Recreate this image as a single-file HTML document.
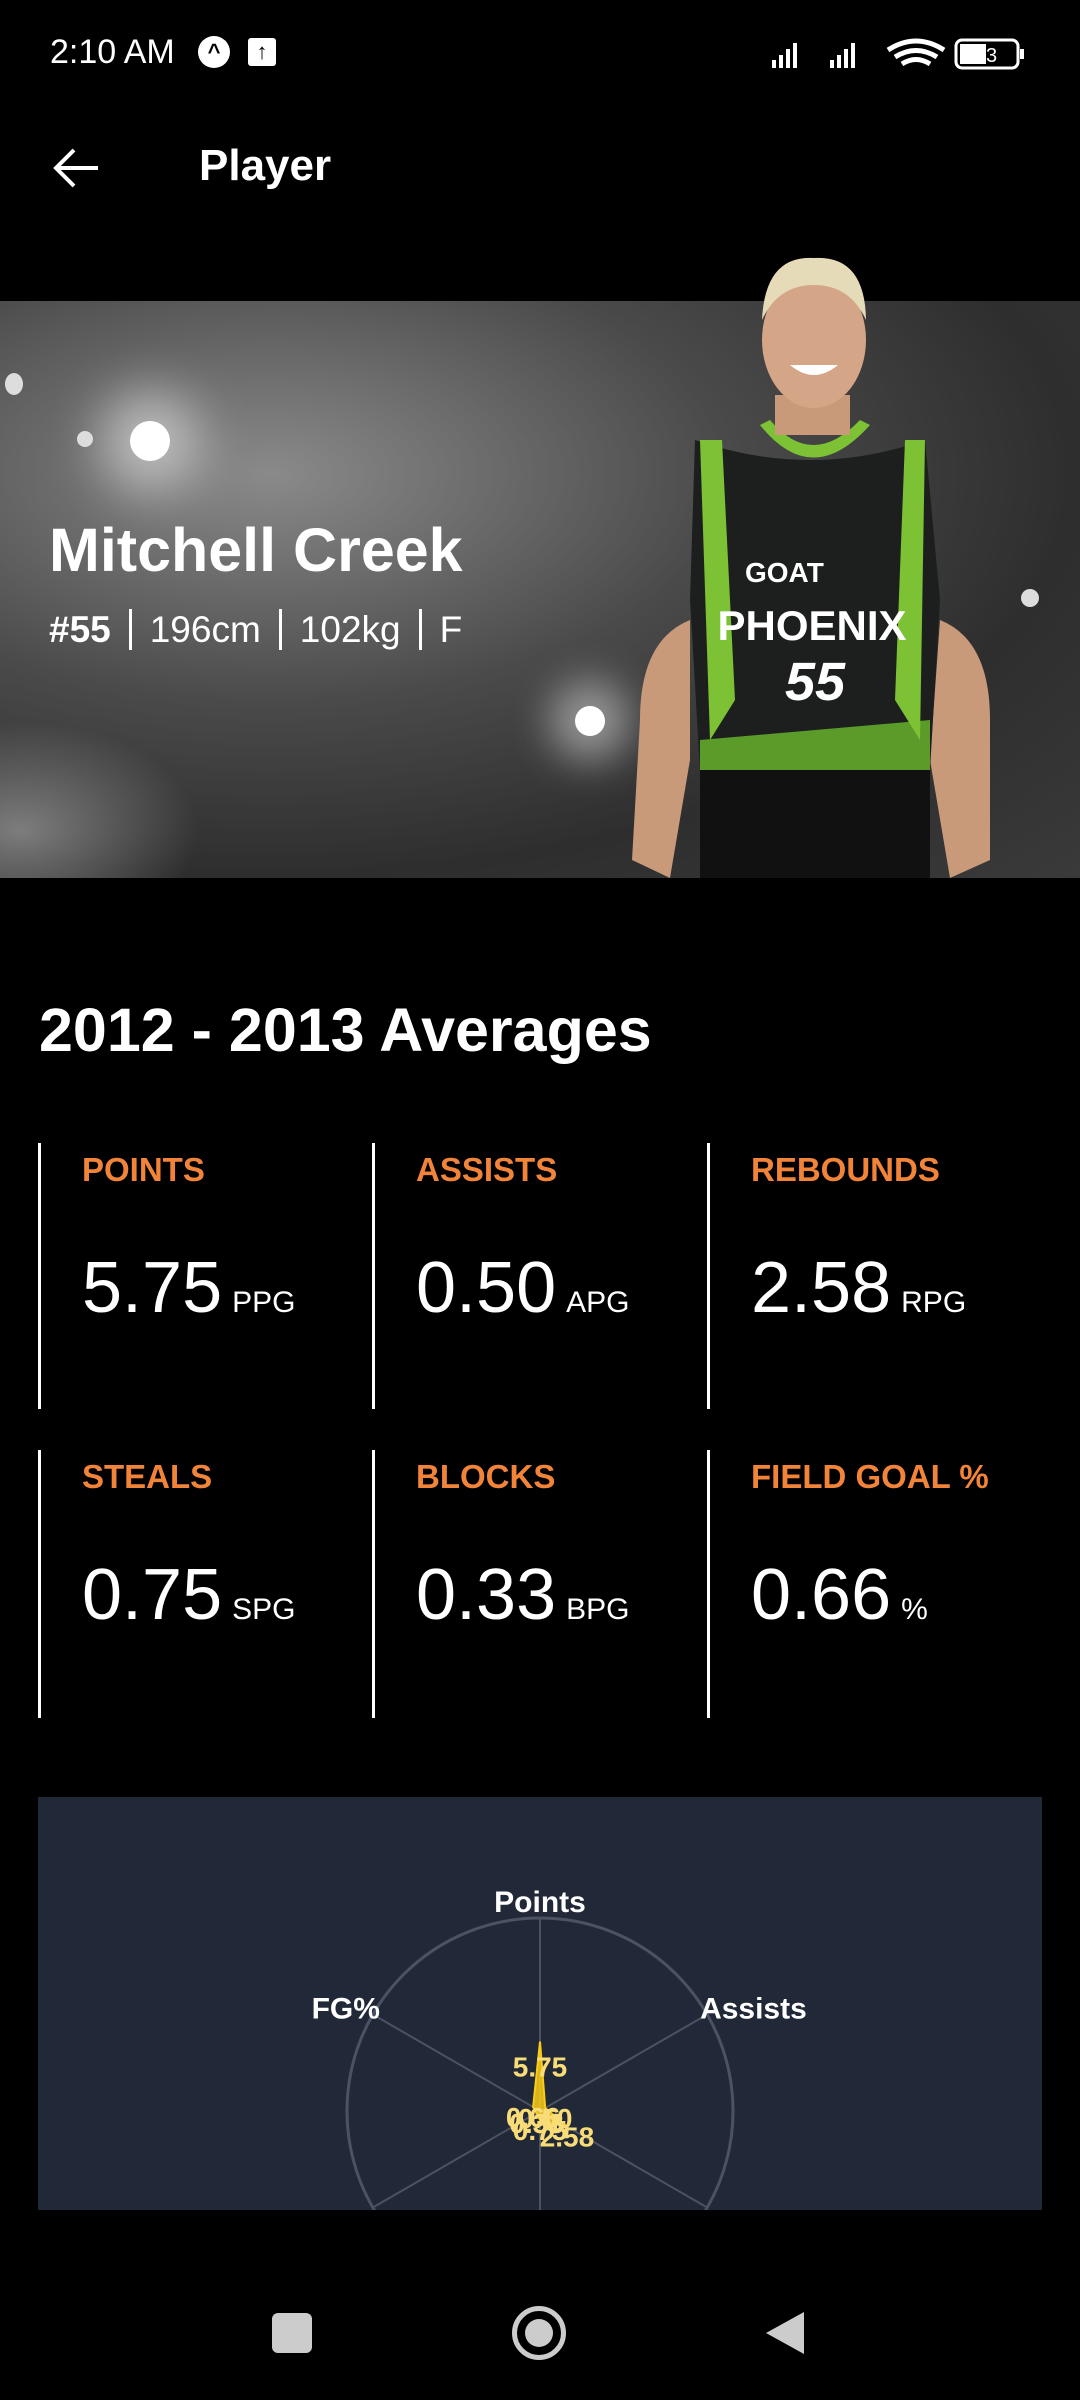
<!DOCTYPE html>
<html><head><meta charset="utf-8"><style>
*{margin:0;padding:0;box-sizing:border-box}
body{width:1080px;height:2400px;background:#000;overflow:hidden;position:relative;font-family:"Liberation Sans",sans-serif;color:#fff}
.abs{position:absolute}
.lbl{color:#F2843A;font-size:33px;font-weight:bold;position:absolute;left:41px;top:8px}
.val{position:absolute;left:41px;top:104px;font-size:72px;white-space:nowrap}
.val span{font-size:30px;margin-left:10px}
.cell{position:absolute;border-left:3px solid #fff;width:300px}
</style></head><body>
<div class="abs" style="left:0;top:0;width:1080px;height:110px">
 <div class="abs" style="left:50px;top:33px;font-size:34px">2:10 AM</div>
 <div class="abs" style="left:198px;top:36px;width:32px;height:32px;border-radius:50%;background:#fff;color:#000;font-size:22px;text-align:center;line-height:32px;font-weight:bold">^</div>
 <div class="abs" style="left:248px;top:38px;width:28px;height:28px;background:#fff;color:#000;font-size:22px;text-align:center;line-height:28px;border-radius:3px">↑</div>
 <svg class="abs" style="left:770px;top:36px" width="260" height="36">
  <g fill="#fff"><rect x="2" y="24" width="4" height="8"/><rect x="9" y="19" width="4" height="13"/><rect x="16" y="13" width="4" height="19"/><rect x="23" y="7" width="4" height="25"/>
  <rect x="60" y="24" width="4" height="8"/><rect x="67" y="19" width="4" height="13"/><rect x="74" y="13" width="4" height="19"/><rect x="81" y="7" width="4" height="25"/></g>
  <path d="M118 14 Q146 -4 174 14 M125 21 Q146 8 167 21 M132 28 Q146 19 160 28" stroke="#fff" stroke-width="5" fill="none"/>
  <rect x="186" y="4" width="62" height="28" rx="6" stroke="#fff" stroke-width="3" fill="none"/><rect x="190" y="8" width="26" height="20" fill="#fff"/>
  <text x="216" y="26" font-size="20" fill="#fff" text-anchor="middle" font-family="Liberation Sans">43</text>
  <rect x="250" y="13" width="4" height="10" fill="#fff"/>
 </svg>
</div>
<div class="abs" style="left:52px;top:146px;width:50px;height:44px">
 <svg width="50" height="44"><path d="M4 22 H46 M22 4 L4 22 L22 40" stroke="#fff" stroke-width="4" fill="none"/></svg>
</div>
<div class="abs" style="left:199px;top:141px;font-size:44px;font-weight:bold">Player</div>

<div class="abs" style="left:0;top:301px;width:1080px;height:577px;overflow:hidden;background:radial-gradient(ellipse at 25% 30%,#8a8a8a 0%,#4a4a4a 40%,#2e2e2e 70%,#3a3a3a 100%)">
 <div class="abs" style="left:130px;top:120px;width:40px;height:40px;border-radius:50%;background:#fff;box-shadow:0 0 50px 30px rgba(255,255,255,.5)"></div>
 <div class="abs" style="left:575px;top:405px;width:30px;height:30px;border-radius:50%;background:#fff;box-shadow:0 0 40px 25px rgba(255,255,255,.45)"></div>
 <div class="abs" style="left:0;top:420px;width:200px;height:157px;background:radial-gradient(ellipse at 10% 70%,rgba(200,200,200,.5),transparent 70%)"></div>
 <div class="abs" style="left:5px;top:72px;width:18px;height:22px;border-radius:50%;background:#ddd"></div>
 <div class="abs" style="left:77px;top:130px;width:16px;height:16px;border-radius:50%;background:#ddd"></div>
 <div class="abs" style="left:1021px;top:288px;width:18px;height:18px;border-radius:50%;background:#ddd"></div>
 <div class="abs" style="left:49px;top:214px;font-size:61px;font-weight:bold">Mitchell Creek</div>
 <div class="abs" style="left:49px;top:308px;font-size:37px;white-space:nowrap">
  <b>#55</b><span style="border-left:3px solid #fff;margin:0 18px;"></span>196cm<span style="border-left:3px solid #fff;margin:0 18px;"></span>102kg<span style="border-left:3px solid #fff;margin:0 18px;"></span>F
 </div>
</div>

<svg class="abs" style="left:0;top:0" width="1080" height="878">
  <path d="M690 620 Q640 640 640 720 L632 860 L670 878 L690 760 Z" fill="#c89a7a"/>
  <path d="M940 620 Q990 640 990 720 L990 860 L950 878 L930 760 Z" fill="#c89a7a"/>
  <path d="M700 878 L700 760 L930 760 L930 878 Z" fill="#111"/>
  <path d="M695 440 Q810 480 925 440 L940 600 L930 770 L700 770 L690 600 Z" fill="#1d1f1f"/>
  <path d="M700 740 L930 720 L930 770 L700 770 Z" fill="#5a9b2a"/>
  <path d="M700 440 L722 440 L735 700 L710 740 Z M905 440 L925 440 L920 740 L895 700 Z" fill="#7cc234"/>
  <path d="M760 425 Q812 490 870 425 L860 420 Q812 470 770 420 Z" fill="#7cc234"/>
  <rect x="775" y="395" width="75" height="40" fill="#c89a7a"/>
  <ellipse cx="814" cy="340" rx="52" ry="68" fill="#d4a586"/>
  <path d="M762 320 Q765 255 814 258 Q865 255 866 320 Q850 285 814 285 Q778 285 762 320Z" fill="#e6dbb8"/>
  <path d="M790 365 Q814 385 838 365 Z" fill="#fff"/>
  <text x="745" y="582" font-size="28" font-weight="bold" fill="#fff" font-family="Liberation Sans">GOAT</text>
  <text x="812" y="640" font-size="42" font-weight="bold" fill="#fff" text-anchor="middle" font-family="Liberation Sans">PHOENIX</text>
  <text x="815" y="700" font-size="54" font-weight="bold" font-style="italic" fill="#fff" text-anchor="middle" font-family="Liberation Sans">55</text>
</svg>

<div class="abs" style="left:39px;top:995px;font-size:61px;font-weight:bold">2012 - 2013 Averages</div>

<div class="cell" style="left:38px;top:1143px;height:266px"><div class="lbl">POINTS</div><div class="val">5.75<span>PPG</span></div></div>
<div class="cell" style="left:372px;top:1143px;height:266px"><div class="lbl">ASSISTS</div><div class="val">0.50<span>APG</span></div></div>
<div class="cell" style="left:707px;top:1143px;height:266px"><div class="lbl">REBOUNDS</div><div class="val">2.58<span>RPG</span></div></div>
<div class="cell" style="left:38px;top:1450px;height:268px"><div class="lbl">STEALS</div><div class="val">0.75<span>SPG</span></div></div>
<div class="cell" style="left:372px;top:1450px;height:268px"><div class="lbl">BLOCKS</div><div class="val">0.33<span>BPG</span></div></div>
<div class="cell" style="left:707px;top:1450px;height:268px"><div class="lbl">FIELD GOAL %</div><div class="val">0.66<span>%</span></div></div>

<svg class="abs" id="radar" style="left:38px;top:1797px;background:#212838" width="1004" height="413"></svg>

<div class="abs" style="left:0;top:2270px;width:1080px;height:130px">
 <div class="abs" style="left:272px;top:43px;width:40px;height:40px;background:#ccc;border-radius:6px"></div>
 <div class="abs" style="left:512px;top:36px;width:54px;height:54px;border:5px solid #ccc;border-radius:50%"><div style="margin:8px;width:28px;height:28px;border-radius:50%;background:#ccc"></div></div>
 <svg class="abs" style="left:764px;top:40px" width="42" height="46"><path d="M40 2 L40 44 L2 23 Z" fill="#ccc"/></svg>
</div>

<script>
const axes = ["Points","Assists","Rebounds","Steals","Blocks","FG%"];
const values = [5.75, 0.50, 2.58, 0.75, 0.33, 0.66];
const valueLabels = ["5.75","0.50","2.58","0.75","0.33","0.66"];
const maxValue = 16;

const svg = document.getElementById('radar');
const NS = 'http://www.w3.org/2000/svg';
const cx = 502, cy = 314, R = 193;
function ang(i){ return -Math.PI/2 + i*2*Math.PI/axes.length; }
function px(i, v){ return cx + Math.cos(ang(i))*R*v/maxValue; }
function py(i, v){ return cy + Math.sin(ang(i))*R*v/maxValue; }
function mk(tag, attrs){ const e=document.createElementNS(NS,tag); for(const k in attrs) e.setAttribute(k,attrs[k]); svg.appendChild(e); return e; }

const ring = mk('circle',{cx:cx,cy:cy,r:R,fill:'none',stroke:'#4b5262','stroke-width':3});


axes.forEach((a,i)=>{
  const l = mk('line',{x1:cx,y1:cy,x2:px(i,maxValue),y2:py(i,maxValue),stroke:'#4b5262','stroke-width':2});
  
  
  const c = Math.cos(ang(i)), s = Math.sin(ang(i));
  const vertical = Math.abs(c) < 0.1;
  const lx = cx + c*(R+8), ly = cy + s*(R+8);
  const t = mk('text',{x: lx + (vertical?0:(c>0?-14:14)), y: ly + (vertical ? (s<0 ? 2 : 36) : (s<0 ? 8 : 40)), fill:'#fff','font-size':30,'font-weight':'bold','font-family':'Liberation Sans, sans-serif','text-anchor': vertical?'middle':(c>0?'start':'end')});
  t.textContent = a;
  
  
});
const pts = values.map((v,i)=>px(i,v)+','+py(i,v)).join(' ');
const poly = mk('polygon',{points:pts,fill:'rgba(250,204,21,0.85)',stroke:'#facc15','stroke-width':2});


values.forEach((v,i)=>{
  const t = mk('text',{x:px(i,v), y:py(i,v)+ (i===0?35:20), fill:'#f8dc78','font-size':28,'font-weight':'bold','font-family':'Liberation Sans, sans-serif','text-anchor':'middle'});
  t.textContent = valueLabels[i];
  
  
});
</script>
</body></html>
